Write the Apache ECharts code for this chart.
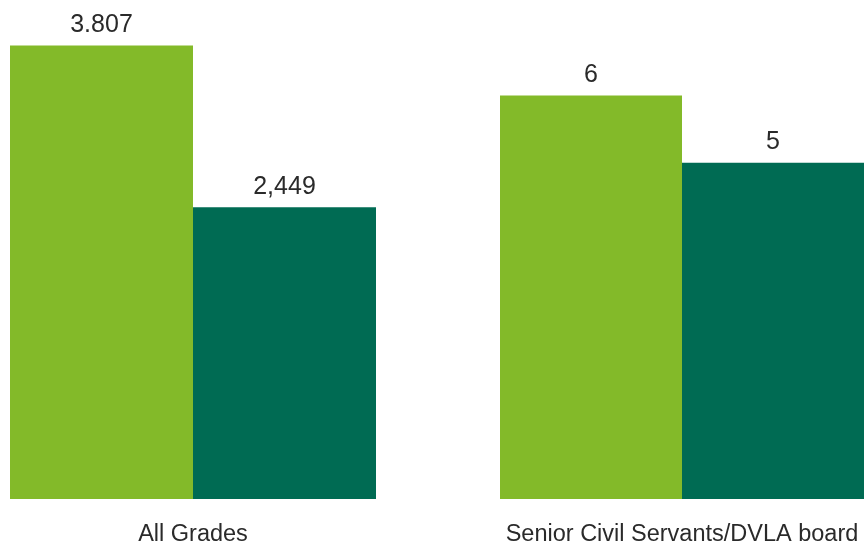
<!DOCTYPE html>
<html>
<head>
<meta charset="utf-8">
<script src="https://cdn.jsdelivr.net/npm/echarts@6/dist/echarts.min.js"></script>
<style>html,body{margin:0;padding:0;background:#fff}#c{width:864px;height:545px}</style>
</head>
<body>
<div id="c"></div>
<script>
const categories = ['All Grades', 'Senior Civil Servants/DVLA board'];
const seriesA = [3807, 6];
const seriesB = [2449, 5];
const labelsA = ['3.807', '6'];
const labelsB = ['2,449', '5'];
const axisMax = [4190, 7.42];

const colorA = '#83ba29';
const colorB = '#006b53';
const font = '"Liberation Sans", Arial, sans-serif';
const textColor = '#2a2a2a';

const grids = [
  { left: 10, width: 366, top: 0, bottom: 46, containLabel: false, outerBoundsMode: 'none' },
  { left: 500, width: 364, top: 0, bottom: 46, containLabel: false, outerBoundsMode: 'none' }
];
const chart = echarts.init(document.getElementById('c'), null, { renderer: 'canvas' });
const xAxis = [], yAxis = [], series = [];
categories.forEach((cat, i) => {
  xAxis.push({
    type: 'category', gridIndex: i, data: [cat],
    axisLine: { show: false }, axisTick: { show: false },
    axisLabel: { margin: 24, fontSize: 23.5, color: textColor, fontFamily: font }
  });
  yAxis.push({ type: 'value', gridIndex: i, min: 0, max: axisMax[i], show: false, splitLine: { show: false } });
  const mk = (val, lab, color) => ({
    type: 'bar', xAxisIndex: i, yAxisIndex: i,
    data: [val], barGap: '0%', barCategoryGap: '0%',
    itemStyle: { color: color },
    label: {
      show: true, position: 'top', distance: 8,
      formatter: () => lab,
      fontSize: 25, color: textColor, fontFamily: font
    },
    silent: true, animation: false
  });
  series.push(mk(seriesA[i], labelsA[i], colorA));
  series.push(mk(seriesB[i], labelsB[i], colorB));
});
chart.setOption({ animation: false, grid: grids, xAxis, yAxis, series });
</script>
</body>
</html>
